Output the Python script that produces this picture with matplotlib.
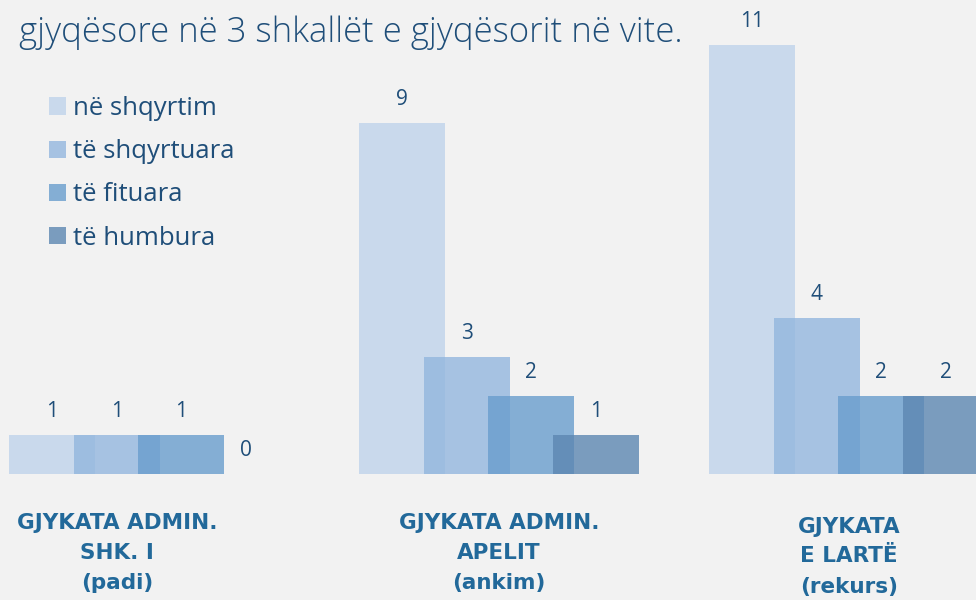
import matplotlib
matplotlib.use('Agg')
import matplotlib.pyplot as plt
import numpy as np

# --- data ---
groups = ['GJYKATA ADMIN.\nSHK. I\n(padi)',
          'GJYKATA ADMIN.\nAPELIT\n(ankim)',
          'GJYKATA\nE LARTË\n(rekurs)']
series = ['në shqyrtim', 'të shqyrtuara', 'të fituara', 'të humbura']
values = {
    'në shqyrtim':   [1, 9, 11],
    'të shqyrtuara': [1, 3, 4],
    'të fituara':    [1, 2, 2],
    'të humbura':    [0, 1, 2],
}
title = 'gjyqësore në 3 shkallët e gjyqësorit në vite.'

colors = ['#bfd3eb', '#93b6de', '#699dcd', '#5c87b1']
bg = '#f2f2f2'
dark = '#1f4e79'
cat_color = '#22699a'

fig = plt.figure(figsize=(9.76, 6.0), dpi=100, facecolor=bg)
ax = fig.add_axes([0, 0, 1, 1])
ax.set_facecolor(bg)

x = np.arange(len(groups))
step = 0.185
width = 0.246
offsets = (np.arange(len(series)) - 1.5) * step

for i, name in enumerate(series):
    vals = values[name]
    ax.bar(x + offsets[i], vals, width=width, color=colors[i], alpha=0.8,
           label=name, linewidth=0)
    for xi, v in zip(x + offsets[i], vals):
        ax.text(xi, v + 0.6, str(v), ha='center', va='center',
                fontsize=15, color=dark, family='Open Sans')

ax.set_xlim(-0.426, 2.363)
ax.set_ylim(-3.23, 12.15)
ax.axis('off')

# category labels under each group
label_x = [-0.091, 0.0, 0.0]
label_y = [[-1.26, -2.03, -2.8], [-1.26, -2.03, -2.8], [-1.36, -2.1, -2.9]]
for gi, lab in enumerate(groups):
    for li, line in enumerate(lab.split('\n')):
        ax.text(x[gi] + label_x[gi], label_y[gi][li], line, ha='center', va='center',
                fontsize=15.5, fontweight='bold', color=cat_color, family='DejaVu Sans')

# title (right-aligned like the source, starting near the left edge)
fig.text(683 / 976, 1 - 33 / 600, title, ha='right', va='center',
         fontsize=25, color=dark, family='Open Sans', fontweight='light')

leg = ax.legend(loc='upper left', bbox_to_anchor=(49 / 976, 1 - 96 / 600),
                frameon=False, handlelength=0.66, handleheight=0.66,
                handletextpad=0.27, labelspacing=0.71, borderpad=0,
                borderaxespad=0,
                prop={'family': 'Open Sans', 'size': 18.5})
for t in leg.get_texts():
    t.set_color(dark)

plt.savefig('out.png', dpi=100, facecolor=bg)
plt.close()
